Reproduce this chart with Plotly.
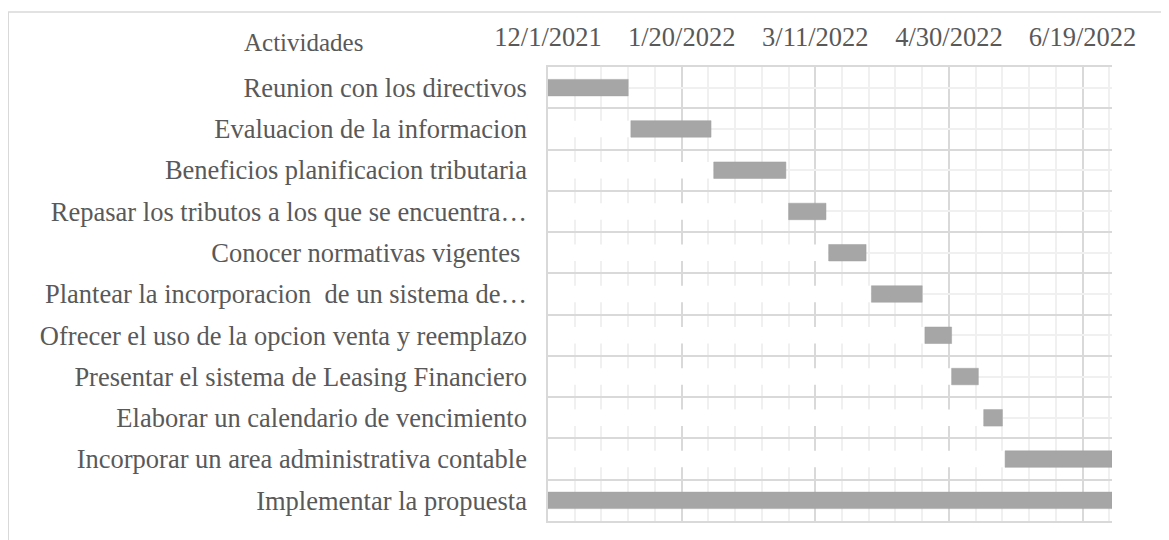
import plotly.graph_objects as go
import pandas as pd

tasks = [
    "Reunion con los directivos",
    "Evaluacion de la informacion",
    "Beneficios planificacion tributaria",
    "Repasar los tributos a los que se encuentra…",
    "Conocer normativas vigentes ",
    "Plantear la incorporacion  de un sistema de…",
    "Ofrecer el uso de la opcion venta y reemplazo",
    "Presentar el sistema de Leasing Financiero",
    "Elaborar un calendario de vencimiento",
    "Incorporar un area administrativa contable",
    "Implementar la propuesta",
]
start_dates = [
    "2021-12-01", "2022-01-01", "2022-02-01", "2022-03-01", "2022-03-16",
    "2022-04-01", "2022-04-21", "2022-05-01", "2022-05-13", "2022-05-21",
    "2021-12-01",
]
end_dates = [
    "2021-12-31", "2022-01-31", "2022-02-28", "2022-03-15", "2022-03-30",
    "2022-04-20", "2022-05-01", "2022-05-11", "2022-05-20", "2022-06-30",
    "2022-06-30",
]
axis_start = "2021-12-01"
axis_end = "2022-06-30"

DAY = 86400000
ypos = list(range(len(tasks)))
st = pd.to_datetime(start_dates)
en = pd.to_datetime(end_dates)
a0 = pd.Timestamp(axis_start)
offset_ms = [(s - a0).total_seconds() * 1000 for s in st]
dur_ms = [(e - s).total_seconds() * 1000 for s, e in zip(st, en)]

FONT = "Liberation Serif, Times New Roman, serif"
TXT = "#595959"
FS = 26.5

fig = go.Figure()
fig.add_trace(go.Bar(
    y=ypos, x=offset_ms, base=[axis_start] * len(tasks), orientation="h",
    width=0.4, marker=dict(color="white", line=dict(width=0)),
    hoverinfo="skip", showlegend=False,
))
fig.add_trace(go.Bar(
    y=ypos, x=dur_ms, base=start_dates, orientation="h",
    width=0.4, marker=dict(color="#a6a6a6", line=dict(color="#a0a0a0", width=0.5)),
    showlegend=False,
))

fig.update_layout(
    width=1169, height=540,
    margin=dict(l=540, r=65, t=59, b=27),
    paper_bgcolor="white", plot_bgcolor="white",
    barmode="overlay", bargap=0.6,
    font=dict(family=FONT, color=TXT, size=FS),
    xaxis=dict(
        type="date", side="top",
        range=[axis_start, axis_end],
        tick0=axis_start, dtick=50 * DAY,
        tickformat="%-m/%-d/%Y",
        tickfont=dict(family=FONT, color=TXT, size=FS),
        ticklabelstandoff=9,
        showgrid=True, gridcolor="#d9d9d9", gridwidth=1.5,
        minor=dict(tick0=axis_start, dtick=10 * DAY, showgrid=True,
                   gridcolor="#f0f0f0", gridwidth=1.5),
        showline=True, linecolor="#d9d9d9", linewidth=1.5, mirror=True,
        ticks="", zeroline=False,
    ),
    yaxis=dict(
        tickmode="array", tickvals=ypos, ticktext=tasks,
        range=[len(tasks) - 0.5, -0.5],
        showgrid=True, gridcolor="#f0f0f0", gridwidth=1.5,
        minor=dict(tickmode="linear", tick0=0.5, dtick=1, showgrid=True,
                   gridcolor="#d9d9d9", gridwidth=1.5),
        showline=True, linecolor="#d9d9d9", linewidth=1.5,
        ticks="", zeroline=False,
        ticklabelstandoff=14,
        tickfont=dict(family=FONT, color=TXT, size=FS),
    ),
    shapes=[dict(type="rect", xref="paper", yref="paper",
                 x0=-0.957, x1=1.13, y0=-0.08, y1=1.121,
                 line=dict(color="#d9d9d9", width=1.5), fillcolor="rgba(0,0,0,0)",
                 layer="below")],
    annotations=[dict(text="Actividades", xref="paper", yref="paper",
                      x=-0.543, y=1.055, xanchor="left", yanchor="middle",
                      showarrow=False,
                      font=dict(family=FONT, color=TXT, size=25))],
)

fig.write_html("out.html")
